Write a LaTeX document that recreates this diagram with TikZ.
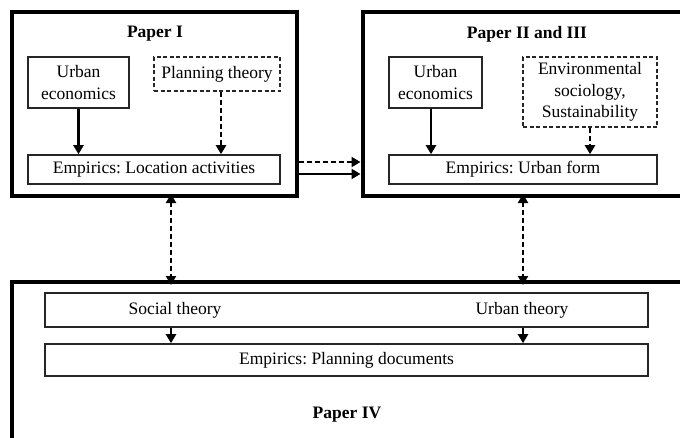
\documentclass[tikz,border=0pt]{standalone}
\usepackage{fontspec}
\setmainfont{Liberation Serif}
\usetikzlibrary{arrows.meta}
\frenchspacing
\begin{document}
\begin{tikzpicture}[x=1pt,y=-1pt,
  every node/.style={font=\fontsize{17.5}{21.5}\selectfont, inner sep=0pt},
  frame/.style={draw, line width=4pt, rectangle},
  box/.style={draw=black!85, line width=1.6pt, rectangle, align=center},
  dbox/.style={box, dash pattern=on 4pt off 2.5pt},
  title/.style={font=\fontsize{17.5}{21.5}\selectfont\bfseries},
  arr/.style={line width=2.3pt, -{Triangle[length=9pt,width=10pt]}},
  darr/.style={arr, dash pattern=on 5pt off 3pt},
  ddarr/.style={line width=2.3pt, dash pattern=on 5pt off 3pt, {Triangle[length=9pt,width=10pt]}-{Triangle[length=9pt,width=10pt]}}
]
\clip (0,0) rectangle (680,437);
\fill[white] (0,0) rectangle (680,437);
% Paper I
\node[frame, minimum width=285pt, minimum height=184pt] (p1) at (154.5,104) {};
\node[title] (t1) at (155,34) {Paper I};
\node[box, minimum width=101pt, minimum height=51pt] (ue1) at (78.5,82.5) {Urban\\economics};
\node[dbox, minimum width=126pt, minimum height=34pt] (pt1) at (217,74) {Planning theory};
\node[box, minimum width=252pt, minimum height=29pt] (em1) at (154,169.5) {Empirics: Location activities};
\draw[arr] (ue1.south) -- (ue1.south |- em1.north);
\draw[darr] ([xshift=4pt]pt1.south) -- ([xshift=4pt]pt1.south |- em1.north);
% Paper II and III
\node[frame, minimum width=340pt, minimum height=184pt] (p2) at (532.5,104) {};
\node[title] (t2) at (527,34) {Paper II and III};
\node[box, minimum width=93pt, minimum height=51pt] (ue2) at (435.5,82.5) {Urban\\economics};
\node[dbox, minimum width=134pt, minimum height=70pt] (env) at (590,92) {Environmental\\sociology,\\Sustainability};
\node[box, minimum width=268pt, minimum height=29pt] (em2) at (523,169.5) {Empirics: Urban form};
\draw[arr] ([xshift=-4.5pt]ue2.south) -- ([xshift=-4.5pt]ue2.south |- em2.north);
\draw[darr] (env.south) -- (env.south |- em2.north);
% between I and II
\coordinate (a1) at (299,162);
\coordinate (a2) at (299,174);
\draw[darr] (a1) -- (a1 -| p2.west);
\draw[arr] (a2) -- (a2 -| p2.west);
% Paper IV
\node[frame, minimum width=700pt, minimum height=200pt] (p4) at (362,382) {};
\node[box, minimum width=603pt, minimum height=34pt] (st) at (346.5,310) {};
\node (stl) at (175,310) {Social theory};
\node (utl) at (522,310) {Urban theory};
\node[box, minimum width=603pt, minimum height=32pt] (ep) at (346.5,360) {Empirics: Planning documents};
\node[title] (t4) at (347,415) {Paper IV};
\coordinate (s1) at (171,0);
\coordinate (s2) at (523,0);
\draw[arr] (s1 |- st.south) -- (s1 |- ep.north);
\draw[arr] (s2 |- st.south) -- (s2 |- ep.north);
% vertical links
\draw[ddarr] ([yshift=4pt]s1 |- p1.south) -- ([yshift=-5pt]s1 |- p4.north);
\draw[ddarr] ([yshift=4pt]s2 |- p2.south) -- ([yshift=-5pt]s2 |- p4.north);
\end{tikzpicture}
\end{document}
